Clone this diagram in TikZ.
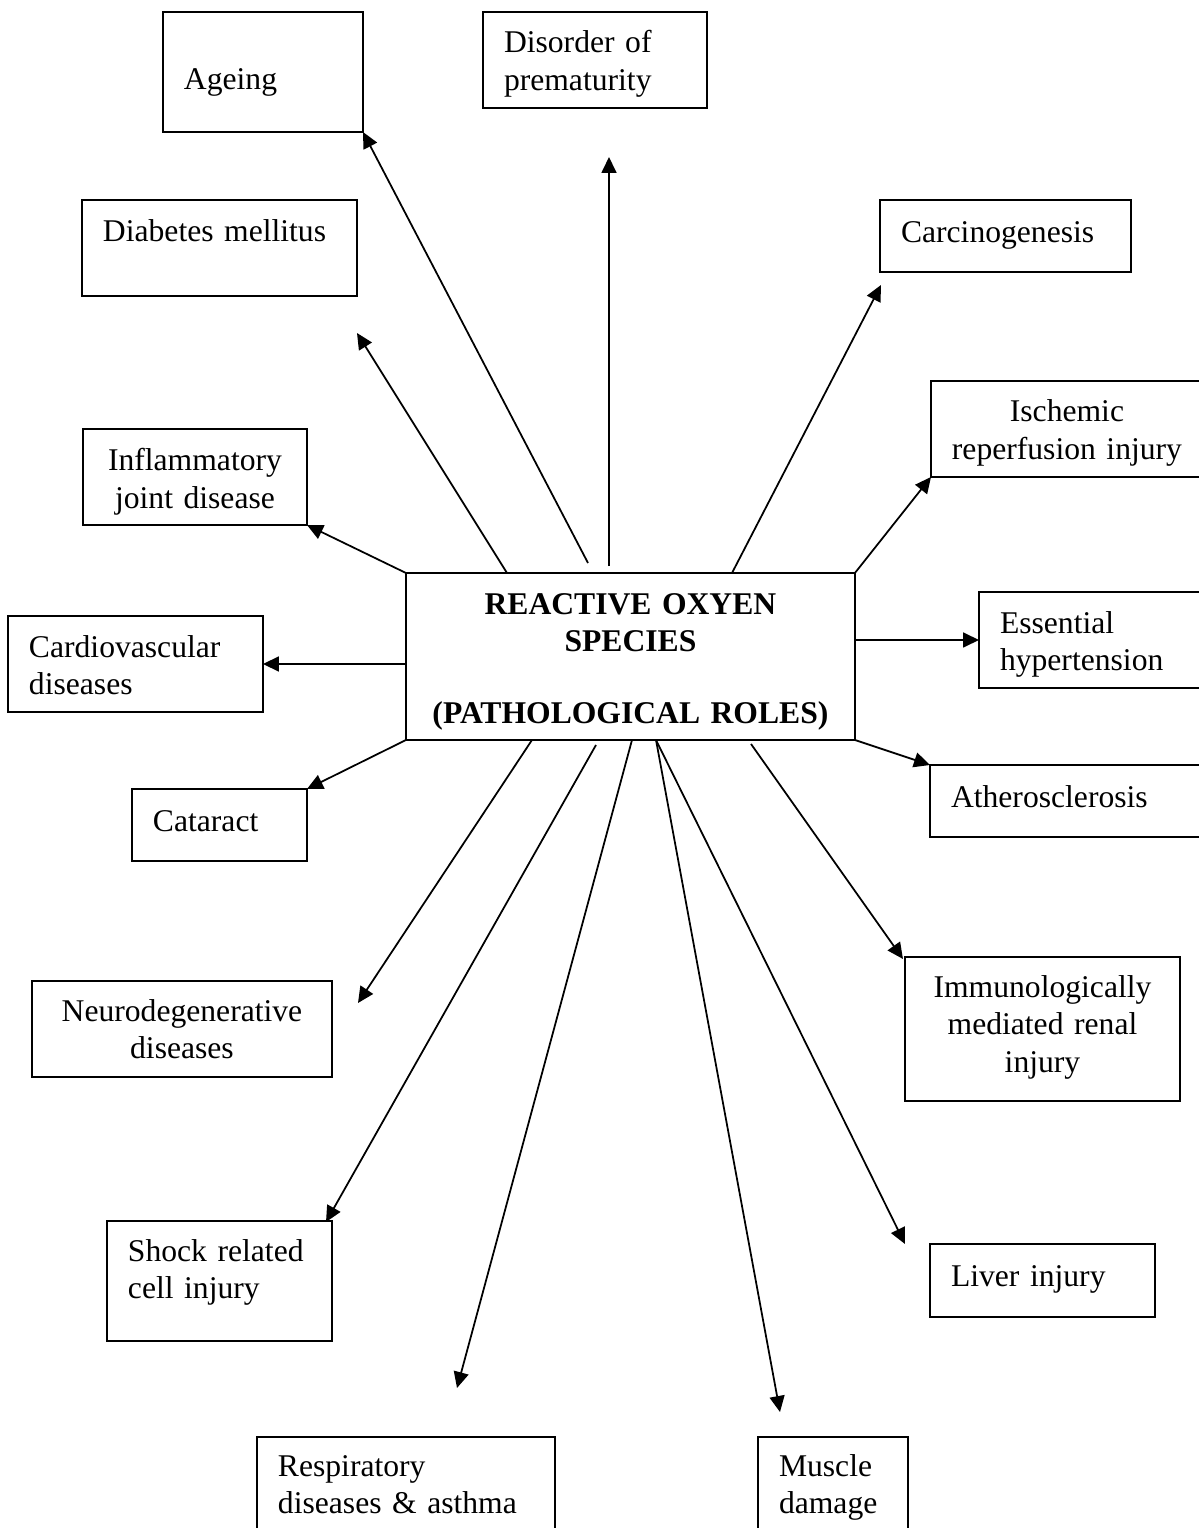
\documentclass[tikz,border=0pt]{standalone}
\usepackage{fontspec}
\setmainfont{Liberation Serif}
\usepackage{tikz}
\usetikzlibrary{arrows.meta,calc}

\begin{document}
\begin{tikzpicture}[
  x=0.02cm, y=-0.02cm,
  font=\fontsize{18pt}{21.5pt}\selectfont,
  box/.style={draw,line width=1pt,outer sep=0pt,anchor=north west,inner ysep=0pt,inner xsep=0.42cm,align=left},
  cbox/.style={box,inner xsep=0.16cm,align=center},
  arr/.style={-{Triangle[length=0.32cm,width=0.3cm]},line width=1pt}
]
\useasboundingbox (0,0) rectangle (1199,1528);
\clip (0,0) rectangle (1199,1528);

\node[cbox,text width=8.66cm,text height=0.82cm,text depth=2.52cm,font=\fontsize{18pt}{21.5pt}\selectfont\bfseries] (ros) at (406,573)
  {REACTIVE OXYEN\\SPECIES\\[19.5pt](PATHOLOGICAL ROLES)};

\node[box,text width=3.16cm,text height=1.56cm,text depth=0.84cm] (ageing)  at (163,12)   {Ageing};
\node[box,text width=3.64cm,text height=0.82cm,text depth=1.1cm]  (premat)  at (483,12)   {Disorder of\\prematurity};
\node[box,text width=4.66cm,text height=0.84cm,text depth=1.08cm] (diab)    at (82,200)   {Diabetes mellitus};
\node[box,text width=4.18cm,text height=0.86cm,text depth=0.58cm] (carcino) at (880,200)  {Carcinogenesis};
\node[cbox,text width=5.12cm,text height=0.82cm,text depth=1.1cm] (isch)    at (931,381)  {Ischemic\\reperfusion injury};
\node[cbox,text width=4.16cm,text height=0.84cm,text depth=1.08cm] (inflam) at (83,429)   {Inflammatory\\joint disease};
\node[box,text width=3.64cm,text height=0.82cm,text depth=1.1cm]  (ess)     at (979,592)  {Essential\\hypertension};
\node[box,text width=4.26cm,text height=0.82cm,text depth=1.1cm]  (cardio)  at (8,616)    {Cardiovascular\\diseases};
\node[box,text width=4.62cm,text height=0.84cm,text depth=0.6cm]  (ather)   at (930,765)  {Atherosclerosis};
\node[box,text width=2.66cm,text height=0.84cm,text depth=0.6cm]  (cat)     at (132,789)  {Cataract};
\node[cbox,text width=5.18cm,text height=0.8cm,text depth=2.08cm] (immuno)  at (905,957)  {Immunologically\\mediated renal\\injury};
\node[cbox,text width=5.68cm,text height=0.8cm,text depth=1.12cm] (neuro)   at (32,981)   {Neurodegenerative\\diseases};
\node[box,text width=3.66cm,text height=0.8cm,text depth=1.6cm]   (shock)   at (107,1221) {Shock related\\cell injury};
\node[box,text width=3.66cm,text height=0.84cm,text depth=0.62cm] (liver)   at (930,1244) {Liver injury};
\node[box,text width=5.12cm,text height=0.78cm,text depth=1.38cm] (resp)    at (257,1437) {Respiratory\\diseases \& asthma};
\node[box,text width=2.16cm,text height=0.78cm,text depth=1.38cm] (muscle)  at (758,1437) {Muscle\\damage};

\coordinate (tdiab)    at (357,333);
\coordinate (tpremat)  at (609,157);
\coordinate (tcarcino) at (881,285);
\coordinate (timmuno)  at (903,959);
\coordinate (tliver)   at (905,1244);
\coordinate (tmuscle)  at (780,1412);
\coordinate (tresp)    at (457,1388);
\coordinate (tshock)   at (326,1222);
\coordinate (tneuro)   at (358,1003);

\draw[arr] ($(ros.north west)+(101,0)$) -- (tdiab);
\draw[arr] ($(ros.north west)+(182,-10)$) -- (ageing.south east);
\draw[arr] ($(ros.north west)+(203,-7)$) -- (tpremat);
\draw[arr] ($(ros.north west)+(326,0)$) -- (tcarcino);
\draw[arr] (ros.north east) -- (isch.south west);
\draw[arr] (ros.east |- ess.west) -- (ess.west);
\draw[arr] (ros.south east) -- (ather.north west);
\draw[arr] ($(ros.south west)+(345,4)$) -- (timmuno);
\draw[arr] ($(ros.south west)+(250,0)$) -- (tliver);
\draw[arr] ($(ros.south west)+(250,0)$) -- (tmuscle);
\draw[arr] ($(ros.south west)+(226,0)$) -- (tresp);
\draw[arr] ($(ros.south west)+(190,5)$) -- (tshock);
\draw[arr] ($(ros.south west)+(126,0)$) -- (tneuro);
\draw[arr] (ros.south west) -- (cat.north east);
\draw[arr] (ros.west |- cardio.east) -- (cardio.east);
\draw[arr] (ros.north west) -- (inflam.south east);
\end{tikzpicture}
\end{document}
